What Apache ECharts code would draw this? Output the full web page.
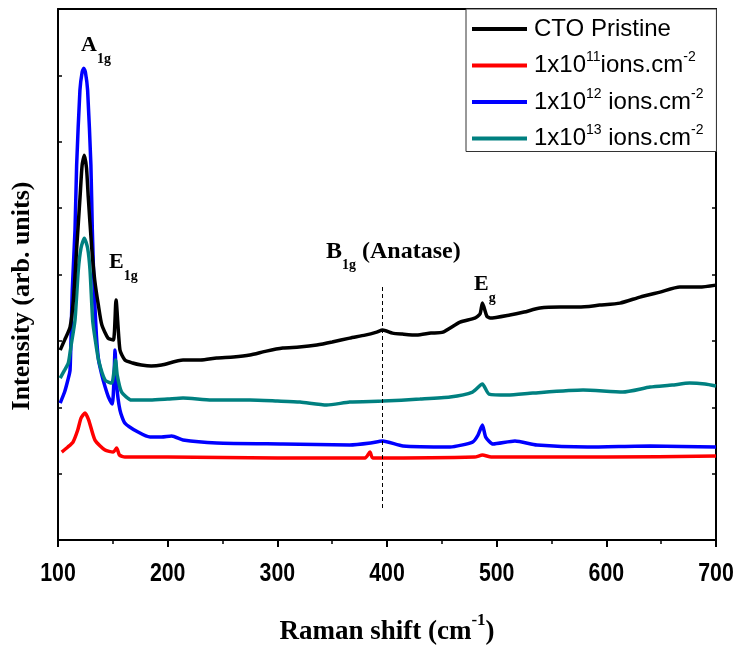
<!DOCTYPE html>
<html>
<head>
<meta charset="utf-8">
<script src="https://cdn.jsdelivr.net/npm/echarts@6/dist/echarts.min.js"></script>
<style>
  html, body { margin: 0; padding: 0; background: #fff; }
  #main { width: 740px; height: 648px; }
</style>
</head>
<body>
<div id="main"></div>
<script>
// Raman spectra, values (arb. units)
var shiftBlack = [102,106,111,114,117.1,120.1,122,124,126,127.6,130.7,133.5,136.8,140,145.6,150.5,152.9,156.5,161,168,176,185,194.5,214,230,244.7,260,275,290,305,320,336,350,366,380,390.6,396,405,414,427,440,451,466.6,480,484.8,487,491,494,512,525,539.5,557.8,575,594,612.5,630.7,649,667,685,700];
var intBlack   = [2861,3012,3208,3614,4413,5166,5648,5798,5602,5166,4413,3916,3539,3238,3042,3012,3614,2861,2711,2666,2636,2620,2636,2711,2711,2741,2756,2786,2846,2892,2907,2937,2982,3042,3087,3132,3163,3117,3102,3087,3117,3132,3283,3343,3404,3569,3373,3343,3389,3434,3494,3509,3509,3539,3569,3660,3735,3810,3810,3840];

var shiftRed = [103.4,109,113.7,118,121,124.6,128,133.7,142.9,150.4,153.5,156,161,200,300,380,384.5,387,480,487,495,600,700];
var intRed   = [1325,1401,1476,1657,1837,1913,1807,1506,1355,1325,1386,1280,1250,1250,1235,1235,1325,1235,1250,1280,1250,1250,1265];

var shiftBlue = [102,106,109,111,113,115.5,117,120,122,123.5,125,127,130,131.3,133,135,137,140,143,146,149.5,151,152,153.5,156.5,161,173,184,194.5,203.7,214,244.7,305,366,385,396,414.6,457.5,478,483,487,490,496.7,516.7,536.7,583,640,700];
var intBlue   = [2063,2229,2410,2560,3765,4669,5648,6777,7048,7108,7048,6777,5648,4669,3765,3087,2711,2485,2304,2154,2048,2410,2861,2334,1958,1762,1626,1551,1551,1566,1506,1461,1446,1431,1461,1491,1416,1401,1476,1581,1732,1551,1446,1491,1431,1401,1416,1401];

var shiftTeal = [102,106,109.4,112,115.5,118.5,121,124,127,129.2,131.6,134,137,142.9,149,151,152.5,154,158,167,184,200,214,240,275,300,320.7,345,366,396,430,457.5,478,487,493,510,533,578.8,615,640,660,676,690,700];
var intTeal   = [2440,2560,2666,2937,3313,4066,4400,4548,4400,4066,3313,3012,2711,2410,2364,2530,2711,2485,2229,2108,2108,2123,2139,2108,2108,2093,2078,2033,2078,2093,2123,2154,2229,2349,2199,2184,2214,2259,2229,2304,2334,2364,2349,2319];

var seriesNames = ['CTO Pristine', '1e11', '1e12', '1e13'];
var legendText = {
  'CTO Pristine': '{n|CTO Pristine}',
  '1e11': '{n|1x10}{s|11}{n|ions.cm}{s|-2}',
  '1e12': '{n|1x10}{s|12}{n| ions.cm}{s|-2}',
  '1e13': '{n|1x10}{s|13}{n| ions.cm}{s|-2}'
};
var xTickLabels = [100, 200, 300, 400, 500, 600, 700];
var anataseShift = 396;
var anataseRange = [482, 3840];

function pairs(xs, ys) {
  return xs.map(function (x, i) { return [x, ys[i]]; });
}

var serif = "'Liberation Serif', 'Times New Roman', serif";
var sans = "'Liberation Sans', Arial, sans-serif";

function label(x, y, text, size) {
  return {
    type: 'text', x: x, y: y,
    style: {
      text: text,
      rich: {
        b: { fontSize: size, fontWeight: 'bold', fontFamily: serif, fill: '#000', lineHeight: 32, verticalAlign: 'top' },
        s: { fontSize: 14, fontWeight: 'bold', fontFamily: serif, fill: '#000', lineHeight: 32, verticalAlign: 'bottom' }
      }
    }
  };
}

var chart = echarts.init(document.getElementById('main'));

var option = {
  animation: false,
  backgroundColor: '#fff',
  grid: { left: 58, right: 24, top: 9, bottom: 108, outerBoundsMode: 'none', containLabel: false },
  legend: {
    left: 466, top: 9,
    orient: 'vertical',
    padding: [8, 13, 1, 6],
    itemGap: 9.5,
    itemWidth: 55,
    itemHeight: 4,
    icon: 'rect',
    backgroundColor: '#fff',
    borderColor: '#333',
    borderWidth: 1,
    data: seriesNames,
    formatter: function (name) { return legendText[name]; },
    textStyle: {
      padding: [0, 0, 0, 2],
      rich: {
        n: { fontSize: 24, fontFamily: sans, color: '#000', lineHeight: 30 },
        s: { fontSize: 14, fontFamily: sans, color: '#000', verticalAlign: 'top', lineHeight: 30, padding: [0, 0, 12, 0] }
      }
    }
  },
  xAxis: [{
    type: 'value',
    min: 100, max: 700, interval: 100,
    name: '{b|Raman shift (cm}{s|-1}{b|)}',
    nameLocation: 'middle',
    nameGap: 72,
    nameTextStyle: {
      rich: {
        b: { fontSize: 27, fontWeight: 'bold', fontFamily: serif, color: '#000', lineHeight: 34, verticalAlign: 'bottom' },
        s: { fontSize: 17, fontWeight: 'bold', fontFamily: serif, color: '#000', lineHeight: 34, verticalAlign: 'top' }
      }
    },
    axisLine: { show: true, onZero: false, lineStyle: { color: '#000', width: 2 } },
    axisTick: { show: true, length: 7, lineStyle: { color: '#000', width: 2 } },
    minorTick: { show: true, splitNumber: 2, length: 4, lineStyle: { color: '#000', width: 1.5 } },
    axisLabel: { show: false },
    splitLine: { show: false }
  }, {
    type: 'value', position: 'top',
    min: 100, max: 700, interval: 100,
    axisLine: { show: true, onZero: false, lineStyle: { color: '#000', width: 2 } },
    axisTick: { show: false }, axisLabel: { show: false }, splitLine: { show: false }
  }],
  yAxis: [{
    type: 'value', min: 0, max: 8000, interval: 1000,
    axisLine: { show: true, onZero: false, lineStyle: { color: '#000', width: 2 } },
    axisTick: { show: true, inside: true, length: 4, lineStyle: { color: '#000', width: 1.5 } },
    axisLabel: { show: false }, splitLine: { show: false }
  }, {
    type: 'value', position: 'right', min: 0, max: 8000, interval: 1000,
    axisLine: { show: true, onZero: false, lineStyle: { color: '#000', width: 2 } },
    axisTick: { show: true, inside: true, length: 4, lineStyle: { color: '#000', width: 1.5 } },
    axisLabel: { show: false }, splitLine: { show: false }
  }],
  graphic: [
    {
      type: 'text', x: 22, y: 296, rotation: Math.PI / 2,
      style: { text: 'Intensity (arb. units)', font: 'bold 26px ' + serif, fill: '#000', align: 'center', verticalAlign: 'middle' }
    },
    label(81, 34, '{b|A}{s|1g}', 22),
    label(109, 251, '{b|E}{s|1g}', 22),
    label(326, 240, '{b|B}{s|1g}{b| (Anatase)}', 24),
    label(474, 273, '{b|E}{s|g}', 22)
  ],
  series: [
    {
      name: seriesNames[0], type: 'line', showSymbol: false, z: 5, smooth: 0.2,
      data: pairs(shiftBlack, intBlack),
      lineStyle: { color: '#000000', width: 3.5 }, itemStyle: { color: '#000000' },
      markLine: {
        silent: true, symbol: 'none', label: { show: false },
        lineStyle: { color: '#000', type: [4, 3], width: 1 },
        data: [[{ coord: [anataseShift, anataseRange[0]] }, { coord: [anataseShift, anataseRange[1]] }]]
      }
    },
    {
      name: seriesNames[1], type: 'line', showSymbol: false, z: 2, smooth: 0.2,
      data: pairs(shiftRed, intRed),
      lineStyle: { color: '#ff0000', width: 3.5 }, itemStyle: { color: '#ff0000' }
    },
    {
      name: seriesNames[2], type: 'line', showSymbol: false, z: 3, smooth: 0.2,
      data: pairs(shiftBlue, intBlue),
      lineStyle: { color: '#0000ff', width: 3.5 }, itemStyle: { color: '#0000ff' }
    },
    {
      name: seriesNames[3], type: 'line', showSymbol: false, z: 4, smooth: 0.2,
      data: pairs(shiftTeal, intTeal),
      lineStyle: { color: '#008080', width: 3.5 }, itemStyle: { color: '#008080' }
    }
  ]
};

chart.setOption(option);

// tick labels drawn narrow (condensed bold) at the axis' own tick positions
var axisY = chart.convertToPixel({ yAxisIndex: 0 }, 0);
var tickGraphics = xTickLabels.map(function (v, i) {
  return {
    id: 'tick' + i, type: 'text',
    x: chart.convertToPixel({ xAxisIndex: 0 }, v), y: axisY + 21,
    scaleX: 0.82,
    style: { text: String(v), font: 'bold 26px ' + sans, fill: '#000', align: 'center', verticalAlign: 'top' }
  };
});
chart.setOption({ graphic: option.graphic.concat(tickGraphics) });
</script>
</body>
</html>
